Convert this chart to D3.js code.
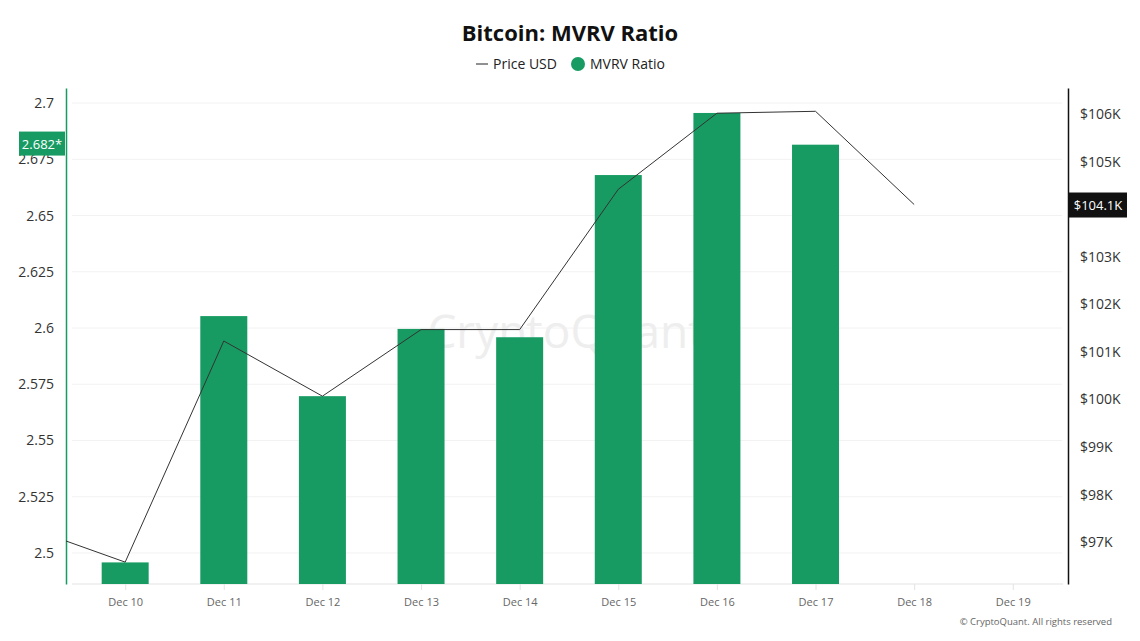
<!DOCTYPE html>
<html>
<head>
<meta charset="utf-8">
<script src="https://cdn.jsdelivr.net/npm/d3@7/dist/d3.min.js"></script>
<style>
  body { margin: 0; background: #fff; }
  svg { font-family: "Open Sans", sans-serif; display: block; }
</style>
</head>
<body>
<div id="chart"></div>
<script>
// categories and values
let days = ["Dec 9", "Dec 10", "Dec 11", "Dec 12", "Dec 13", "Dec 14", "Dec 15", "Dec 16", "Dec 17", "Dec 18", "Dec 19"];
let dayLabels = ["Dec 10", "Dec 11", "Dec 12", "Dec 13", "Dec 14", "Dec 15", "Dec 16", "Dec 17", "Dec 18", "Dec 19"];
let mvrv = [null, 2.4958, 2.6053, 2.5697, 2.5996, 2.5959, 2.668, 2.6956, 2.6815, null, null];
let priceK = [97.32, 96.58, 101.23, 100.07, 101.47, 101.47, 104.42, 106.02, 106.06, 104.1, null];
let mvrvTicks = [2.5, 2.525, 2.55, 2.575, 2.6, 2.625, 2.65, 2.675, 2.7];
let priceTicks = [97, 98, 99, 100, 101, 102, 103, 105, 106];
let lastMvrv = "2.682*";
let lastPrice = "$104.1K";

let width = 1140, height = 641;
let margin = {top: 88, right: 72, bottom: 57, left: 66};
let green = "#179b62";
let font = "'Open Sans', sans-serif";

let svg = d3.select("#chart").append("svg")
    .attr("width", width)
    .attr("height", height);

let x = d3.scaleLinear()
    .domain([0.4, 10.56])
    .range([margin.left, width - margin.right]);

let yL = d3.scaleLinear()
    .domain([2.4862, 2.7067])
    .range([height - margin.bottom, margin.top]);

let yR = d3.scaleLinear()
    .domain([96.12, 106.55])
    .range([height - margin.bottom, margin.top]);

let bottom = height - margin.bottom;

// title + legend
svg.append("text")
    .attr("x", 570).attr("y", 41)
    .attr("text-anchor", "middle")
    .style("font-size", "22px").style("font-weight", "bold").style("fill", "#111")
    .text("Bitcoin: MVRV Ratio");

let legend = svg.append("g").attr("transform", "translate(0,64)");
legend.append("line")
    .attr("x1", 476).attr("x2", 488).attr("y1", 0).attr("y2", 0)
    .attr("stroke", "#222").attr("stroke-width", 1);
legend.append("text")
    .attr("x", 493).attr("y", 5)
    .style("font-size", "14px").style("fill", "#222")
    .text("Price USD");
legend.append("circle")
    .attr("cx", 578).attr("cy", 0).attr("r", 7)
    .attr("fill", green);
legend.append("text")
    .attr("x", 590).attr("y", 5)
    .style("font-size", "14px").style("fill", "#222")
    .text("MVRV Ratio");

// grid lines
svg.append("g").selectAll("line")
    .data(mvrvTicks)
    .enter().append("line")
    .attr("x1", margin.left + 6).attr("x2", width - margin.right - 6)
    .attr("y1", d => yL(d)).attr("y2", d => yL(d))
    .attr("stroke", "#f2f2f2");

// watermark
svg.append("text")
    .attr("x", 566).attr("y", 348)
    .attr("text-anchor", "middle")
    .style("font-size", "46px").style("fill", "#eeeeee")
    .text("CryptoQuant");

// x axis
let xAxis = d3.axisBottom(x)
    .tickValues(d3.range(1, 11))
    .tickFormat(d => dayLabels[d - 1])
    .tickSize(6)
    .tickPadding(8);

let xAxis_g = svg.append("g")
    .attr("class", "x axis")
    .attr("transform", "translate(0," + bottom + ")")
    .call(xAxis)
    .attr("font-family", font);
xAxis_g.select(".domain")
    .attr("d", "M" + (margin.left + 6) + ",0H" + (width - margin.right - 5))
    .attr("stroke", "#e3e3e3");
xAxis_g.selectAll(".tick line").attr("stroke", "#e3e3e3");
xAxis_g.selectAll("text").style("font-size", "11px").style("fill", "#666");

// left axis
let yAxisL = d3.axisLeft(yL)
    .tickValues(mvrvTicks)
    .tickFormat(d => d3.format("")(+d.toFixed(3)))
    .tickSize(0)
    .tickPadding(12);
let yL_g = svg.append("g")
    .attr("transform", "translate(" + margin.left + ",0)")
    .call(yAxisL)
    .attr("font-family", font);
yL_g.select(".domain").attr("stroke", green).attr("stroke-width", 1.5);
yL_g.selectAll("text").style("font-size", "14px").style("fill", "#333");

// right axis
let yAxisR = d3.axisRight(yR)
    .tickValues(priceTicks)
    .tickFormat(d => "$" + d + "K")
    .tickSize(0)
    .tickPadding(12);
let yR_g = svg.append("g")
    .attr("transform", "translate(" + (width - margin.right) + ",0)")
    .call(yAxisR)
    .attr("font-family", font);
yR_g.select(".domain").attr("stroke", "#111").attr("stroke-width", 1.5);
yR_g.selectAll("text").style("font-size", "14px").style("fill", "#333");

// bars
let barW = 47;
let barData = days.map((d, i) => ({i: i, v: mvrv[i]})).filter(d => d.v != null);
svg.append("g").selectAll("rect")
    .data(barData)
    .enter().append("rect")
    .attr("x", d => x(d.i) - barW / 2)
    .attr("width", barW)
    .attr("y", d => yL(d.v))
    .attr("height", d => bottom - yL(d.v))
    .attr("fill", green);

// price line
svg.append("clipPath").attr("id", "plot-clip")
    .append("rect")
    .attr("x", margin.left).attr("y", margin.top)
    .attr("width", width - margin.left - margin.right)
    .attr("height", bottom - margin.top);

let priceData = days.map((d, i) => ({i: i, v: priceK[i]})).filter(d => d.v != null);
let line = d3.line()
    .x(d => x(d.i))
    .y(d => yR(d.v));

svg.append("path")
    .attr("clip-path", "url(#plot-clip)")
    .attr("d", line(priceData))
    .style("fill", "none")
    .attr("stroke", "#333")
    .attr("stroke-width", 1);

// last value badges
let lm = svg.append("g").attr("transform", "translate(19," + yL(2.682) + ")");
lm.append("rect")
    .attr("x", 0).attr("y", -12).attr("width", 46).attr("height", 24)
    .attr("fill", green);
lm.append("text")
    .attr("x", 23).attr("y", 5)
    .attr("text-anchor", "middle")
    .style("font-size", "13px").style("fill", "#fff")
    .text(lastMvrv);

let lp = svg.append("g").attr("transform", "translate(" + (width - margin.right + 1) + "," + yR(104.1) + ")");
lp.append("rect")
    .attr("x", 0).attr("y", -12).attr("width", 58).attr("height", 25)
    .attr("fill", "#111");
lp.append("text")
    .attr("x", 29).attr("y", 5)
    .attr("text-anchor", "middle")
    .style("font-size", "13px").style("fill", "#fff")
    .text(lastPrice);

// copyright
svg.append("text")
    .attr("x", 1112).attr("y", 625)
    .attr("text-anchor", "end")
    .style("font-size", "9.5px").style("fill", "#666")
    .text("\u00a9 CryptoQuant. All rights reserved");
</script>
</body>
</html>
